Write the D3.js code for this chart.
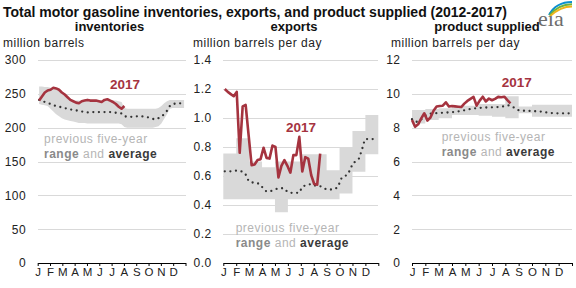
<!DOCTYPE html>
<html><head><meta charset="utf-8">
<script src="https://cdn.jsdelivr.net/npm/d3@7"></script>
<style>
body{margin:0;background:#fff}
svg{display:block;font-family:"Liberation Sans",Arial,sans-serif}
</style></head><body>
<svg id="chart" width="576" height="288"></svg>
<script>
const months = ["J","F","M","A","M","J","J","A","S","O","N","D"];
const titleText = "Total motor gasoline inventories, exports, and product supplied (2012-2017)";

// inventories (million barrels), weekly
const invYear = [240,246,252,255,256,259,258,256,252,249,245,241,239,237,236,239,240,241,240,240,240,239,238,241,242,240,238,235,231,228,232];
const invAvg = [241,239.5,238,236.5,235,233,232,231,230,229,228,227,226,225.5,225,224,223,222.5,223,223,223,223,223,223,223,223,222.5,222,221.5,221,217,216,216,216,216.5,217,217,216,215.5,214.5,213,212,214,216,220,225,232,235,235.5,236,236,236];
const invMax = [261,261,260,260,259,258,256,254,251,248,245,241,240,240,240,239,239,240,240,240,240,240,240,240,240,240,240,240,239,238,229,228,228,228,228,228,228,228,228,228,228,228,229,232,236,239,241,241,241,241,241,241];
const invMin = [235,234,233,232,228,224,220,217,214,212,211,210,209,208,207,207,207,206,206,206,206,206,206,206,206,206,206,206,206,205,201,200,200,200,200,200,200,200,200,200,200,201,202,206,213,220,228,229,229,229,229,229];

// exports (million barrels per day)
const expYear = [1.20,1.18,1.165,1.15,1.18,0.76,1.08,1.09,0.88,0.675,0.68,0.71,0.716,0.795,0.725,0.72,0.81,0.80,0.59,0.67,0.71,0.67,0.623,0.744,0.744,0.87,0.632,0.73,0.72,0.605,0.545,0.54,0.755];
const expAvg = [.632,.632,.632,.635,.637,.634,.63,.61,.565,.556,.554,.55,.54,.51,.493,.493,.5,.508,.515,.516,.514,.49,.484,.484,.484,.484,.525,.535,.54,.545,.535,.53,.53,.52,.508,.507,.507,.51,.525,.58,.6,.605,.64,.69,.7,.72,.78,.853,.855,.855,.855,.855];
const expMaxMonthly = [0.755,0.86,0.70,0.66,0.70,0.70,0.75,0.75,0.64,0.80,0.91,1.02];
const expMinMonthly = [0.44,0.44,0.44,0.44,0.35,0.44,0.44,0.44,0.44,0.48,0.63,0.75];

// product supplied (million barrels per day)
const prodYear = [8.45,8.05,8.2,8.55,8.85,8.42,8.6,9.0,9.25,9.28,9.3,9.5,9.25,9.28,9.26,9.24,9.22,9.42,9.58,9.7,9.82,9.3,9.6,9.83,9.55,9.72,9.62,9.7,9.82,9.8,9.83,9.63,9.44];
const prodAvg = [8.5,8.35,8.35,8.48,8.68,8.78,8.83,8.85,8.86,8.87,8.88,8.89,8.9,8.92,8.93,8.96,8.99,9.03,9.07,9.1,9.13,9.15,9.17,9.18,9.19,9.2,9.2,9.21,9.22,9.24,9.27,9.32,9.3,9.2,9.06,9.02,9.0,9.0,8.99,8.98,8.97,8.96,8.95,8.92,8.89,8.87,8.86,8.85,8.85,8.85,8.85,8.85];
const prodMaxMonthly = [9.05,9.1,9.15,9.3,9.3,9.4,9.4,9.85,9.25,9.35,9.35,9.35];
const prodMinMonthly = [8.25,8.45,8.55,8.75,8.75,8.7,8.65,8.55,8.85,8.65,8.65,8.65];

const RED = "#a5333f", BAND = "#d9d9d9", GRID = "#d9d9d9";
const svg = d3.select("#chart");

svg.append("text").attr("x",3).attr("y",16.5).attr("font-size",14).attr("font-weight","bold")
  .attr("fill","#111").text(titleText);

// eia logo
const logo = svg.append("g");
logo.append("text").attr("x",538).attr("y",26).attr("font-family","'Liberation Serif',serif")
  .attr("font-size",22).attr("fill","#6d6d6d").text("eia");
[["#0a8fd0",0],["#6cb33f",2.2],["#f0b41c",4.4]].forEach(([c,o])=>{
  logo.append("path").attr("d",`M${549+o*0.3},${15+o*0.2} Q${556+o},${2+o} ${572},${2+o}`)
    .attr("fill","none").attr("stroke",c).attr("stroke-width",2);
});

const panels = [
  {x0:37.7,x1:185.5,max:300,step:50,fmt:d3.format("d"),off:0.5,
   year:invYear,avg:invAvg,min:invMin,max2:invMax,weeklyBand:true,
   sub:"inventories",subX:109.5,unit:"million barrels",unitX:3,
   yl:[110,89],note:[44,142.7]},
  {x0:223.3,x1:378.3,max:1.4,step:0.2,fmt:d3.format(".1f"),off:0.5,
   year:expYear,avg:expAvg,min:expMinMonthly,max2:expMaxMonthly,weeklyBand:false,
   sub:"exports",subX:294,unit:"million barrels per day",unitX:193,
   yl:[286,131.7],note:[235.7,231.7]},
  {x0:412,x1:572,max:12,step:2,fmt:d3.format("d"),off:0,
   year:prodYear,avg:prodAvg,min:prodMinMonthly,max2:prodMaxMonthly,weeklyBand:false,
   sub:"product supplied",subX:487,unit:"million barrels per day",unitX:391,
   yl:[501.7,86.7],note:[441.7,141]}
];

panels.forEach(p=>{
  const x = d3.scaleLinear().domain([0,12]).range([p.x0,p.x1]);
  const y = d3.scaleLinear().domain([0,p.max]).range([263,60]);
  const wx = (w)=>x((w+p.off)*12/52);
  const g = svg.append("g");

  g.append("text").attr("x",p.subX).attr("y",30.7).attr("text-anchor","middle")
    .attr("font-size",13).attr("font-weight","bold").attr("fill","#111").text(p.sub);
  g.append("text").attr("x",p.unitX).attr("y",46.7).attr("font-size",12)
    .attr("letter-spacing","0.5").attr("fill","#222").text(p.unit);

  const ticks = d3.range(0,p.max+p.step/2,p.step);
  const ya = g.append("g").attr("transform",`translate(${p.x0},0)`)
    .call(d3.axisLeft(y).tickValues(ticks).tickFormat(p.fmt).tickSize(-(p.x1-p.x0)).tickPadding(11.5));
  ya.select(".domain").remove();
  ya.selectAll("line").attr("stroke",GRID).attr("shape-rendering","crispEdges");
  ya.selectAll(".tick").filter(d=>d===0).select("line").remove();
  ya.selectAll("text").attr("font-size",12).attr("letter-spacing","0.5").attr("fill","#222")
    .attr("font-family","'Liberation Sans',Arial,sans-serif");

  // band
  if (p.weeklyBand) {
    g.append("path").datum(p.min.map((v,i)=>[i,v,p.max2[i]]))
      .attr("fill",BAND)
      .attr("d",d3.area().x(d=>wx(d[0])).y0(d=>y(d[1])).y1(d=>y(d[2])));
  } else {
    const pts = d3.range(13).map(m=>[m,p.min[Math.min(m,11)],p.max2[Math.min(m,11)]]);
    g.append("path").datum(pts).attr("fill",BAND)
      .attr("d",d3.area().curve(d3.curveStepAfter).x(d=>x(d[0])).y0(d=>y(d[1])).y1(d=>y(d[2])));
  }

  // x axis
  const xa = g.append("g").attr("transform","translate(0,263)")
    .call(d3.axisBottom(x).tickValues(d3.range(13)).tickSize(3).tickSizeOuter(0).tickPadding(1.5)
      .tickFormat(i=>i<12?months[i]:""));
  xa.selectAll("path,line").attr("stroke","#000");
  xa.selectAll("text").attr("font-size",11.5).attr("fill","#222")
    .attr("font-family","'Liberation Sans',Arial,sans-serif");

  // average dotted
  g.append("path").datum(p.avg).attr("fill","none").attr("stroke","#333")
    .attr("stroke-width",2.3).attr("stroke-linecap","round").attr("stroke-dasharray","0 5.6")
    .attr("d",d3.line().x((d,i)=>wx(i)).y(d=>y(d)));

  // 2017 line
  g.append("path").datum(p.year).attr("fill","none").attr("stroke",RED)
    .attr("stroke-width",2.6).attr("stroke-linejoin","round")
    .attr("d",d3.line().x((d,i)=>wx(i)).y(d=>y(d)));

  g.append("text").attr("x",p.yl[0]).attr("y",p.yl[1]).attr("font-size",13.5)
    .attr("font-weight","bold").attr("fill",RED).text("2017");

  g.append("text").attr("x",p.note[0]).attr("y",p.note[1]).attr("font-size",12)
    .attr("letter-spacing","0.5").attr("fill","#b5b5b5").text("previous five-year");
  const t2 = g.append("text").attr("x",p.note[0]).attr("y",p.note[1]+15.2).attr("font-size",12)
    .attr("letter-spacing","0.5");
  t2.append("tspan").attr("font-weight","bold").attr("fill","#8a8a8a").text("range");
  t2.append("tspan").attr("fill","#b5b5b5").text(" and ");
  t2.append("tspan").attr("font-weight","bold").attr("fill","#3a3a3a").text("average");
});
</script>
</body></html>
